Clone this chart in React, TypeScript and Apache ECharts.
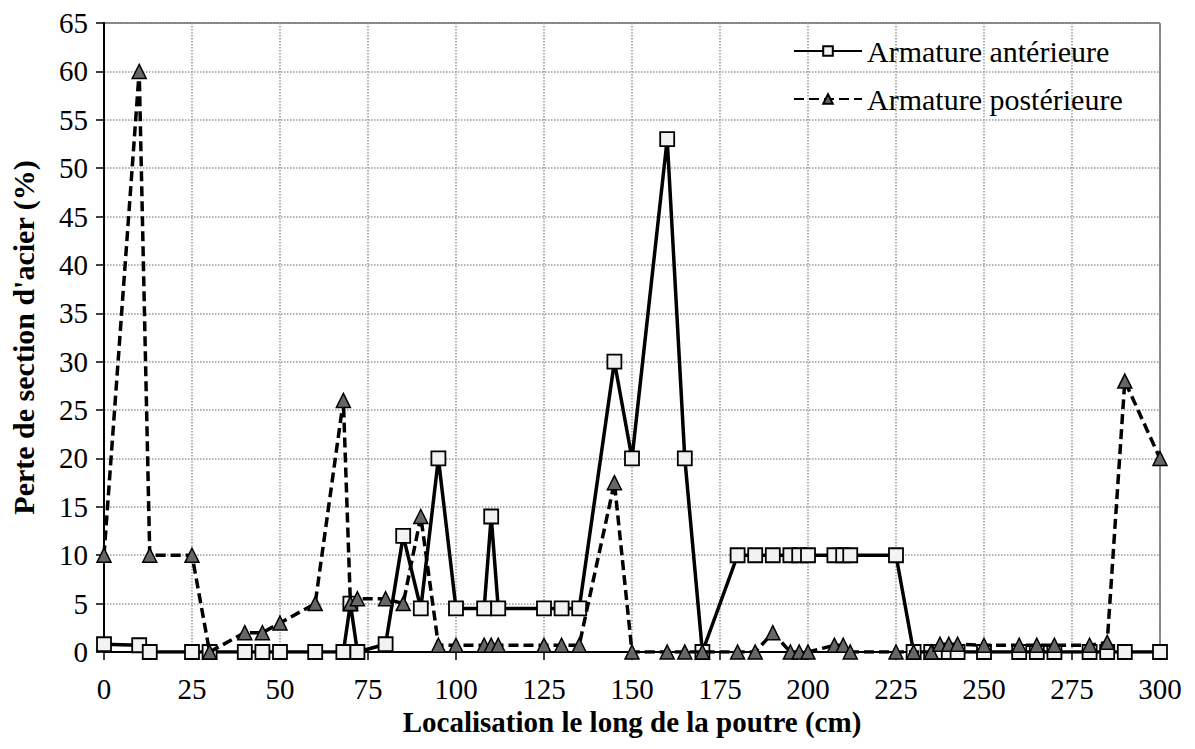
import React, { useEffect, useRef } from "react";
import * as echarts from "echarts";

const positions = [0, 10, 13, 25, 30, 40, 45, 50, 60, 68, 70, 72, 80, 85, 90, 95, 100, 108, 110, 112, 125, 130, 135, 145, 150, 160, 165, 170, 180, 185, 190, 195, 197.5, 200, 207.5, 210, 212, 225, 230, 235, 237.5, 240, 242.5, 250, 260, 265, 270, 280, 285, 290, 300];
const anterieure = [0.8, 0.7, 0, 0, 0, 0, 0, 0, 0, 0, 5, 0, 0.8, 12, 4.5, 20, 4.5, 4.5, 14, 4.5, 4.5, 4.5, 4.5, 30, 20, 53, 20, 0, 10, 10, 10, 10, 10, 10, 10, 10, 10, 10, 0, 0, 0, 0, 0, 0, 0, 0, 0, 0, 0, 0, 0];
const posterieure = [10, 60, 10, 10, 0, 2, 2, 3, 5, 26, 5, 5.5, 5.5, 5, 14, 0.7, 0.7, 0.7, 0.7, 0.7, 0.7, 0.7, 0.7, 17.5, 0, 0, 0, 0, 0, 0, 2, 0, 0, 0, 0.7, 0.7, 0, 0, 0, 0, 0.8, 0.8, 0.8, 0.7, 0.7, 0.7, 0.7, 0.7, 1, 28, 20];
const seriesNames = ["Armature antérieure", "Armature postérieure"];
const xTitle = "Localisation le long de la poutre (cm)";
const yTitle = "Perte de section d'acier (%)";

const FONT = "Liberation Serif";

export default function App() {
  const ref = useRef<HTMLDivElement>(null);
  useEffect(() => {
    if (!ref.current) return;
    const chart = echarts.init(ref.current, undefined, { renderer: "svg" });
    const pair = (ys: number[]) => positions.map((x, i) => [x, ys[i]]);
    chart.setOption({
      animation: false,
      backgroundColor: "#ffffff",
      textStyle: { fontFamily: FONT, color: "#000" },
      grid: {
        left: 103,
        top: 23,
        width: 1057,
        height: 629,
        show: true,
        borderColor: "#000",
        borderWidth: 1,
        backgroundColor: "transparent",
      },
      legend: {
        orient: "vertical",
        left: 788,
        top: 31,
        itemWidth: 68,
        itemHeight: 12,
        itemGap: 18,
        textStyle: { fontFamily: FONT, fontSize: 30, color: "#000" },
        data: seriesNames,
      },
      xAxis: {
        type: "value",
        min: 0,
        max: 300,
        interval: 25,
        name: xTitle,
        nameLocation: "middle",
        nameGap: 46,
        nameTextStyle: { fontFamily: FONT, fontSize: 29, fontWeight: "bold", color: "#000" },
        axisLine: { show: true, onZero: false, lineStyle: { color: "#000", width: 2 } },
        axisTick: { show: true, length: 8, lineStyle: { color: "#000", width: 1.5 } },
        axisLabel: { fontFamily: FONT, fontSize: 29, color: "#000", margin: 22 },
        splitLine: { show: true, lineStyle: { color: "#999", type: "dotted", width: 1.5 } },
      },
      yAxis: {
        type: "value",
        min: 0,
        max: 65,
        interval: 5,
        name: yTitle,
        nameLocation: "middle",
        nameGap: 66,
        nameRotate: 90,
        nameTextStyle: { fontFamily: FONT, fontSize: 30, fontWeight: "bold", color: "#000" },
        axisLine: { show: true, lineStyle: { color: "#000", width: 2 } },
        axisTick: { show: true, length: 8, lineStyle: { color: "#000", width: 1.5 } },
        axisLabel: { fontFamily: FONT, fontSize: 29, color: "#000", margin: 16 },
        splitLine: { show: true, lineStyle: { color: "#999", type: "dotted", width: 1.5 } },
      },
      series: [
        {
          name: seriesNames[0],
          type: "line",
          data: pair(anterieure),
          symbol: "rect",
          symbolSize: 14,
          lineStyle: { color: "#000", width: 3.5, type: "solid" },
          itemStyle: { color: "#f2f2f2", borderColor: "#000", borderWidth: 1.8 },
          z: 2,
        },
        {
          name: seriesNames[1],
          type: "line",
          data: pair(posterieure),
          symbol: "triangle",
          symbolSize: 14,
          lineStyle: { color: "#000", width: 3.5, type: [10, 5] },
          itemStyle: { color: "#666666", borderColor: "#000", borderWidth: 1.5 },
          z: 3,
        },
      ],
    });
    return () => chart.dispose();
  }, []);
  return (
    <div
      ref={ref}
      style={{ position: "fixed", left: 0, top: 0, width: 1195, height: 749, background: "#fff" }}
    />
  );
}
